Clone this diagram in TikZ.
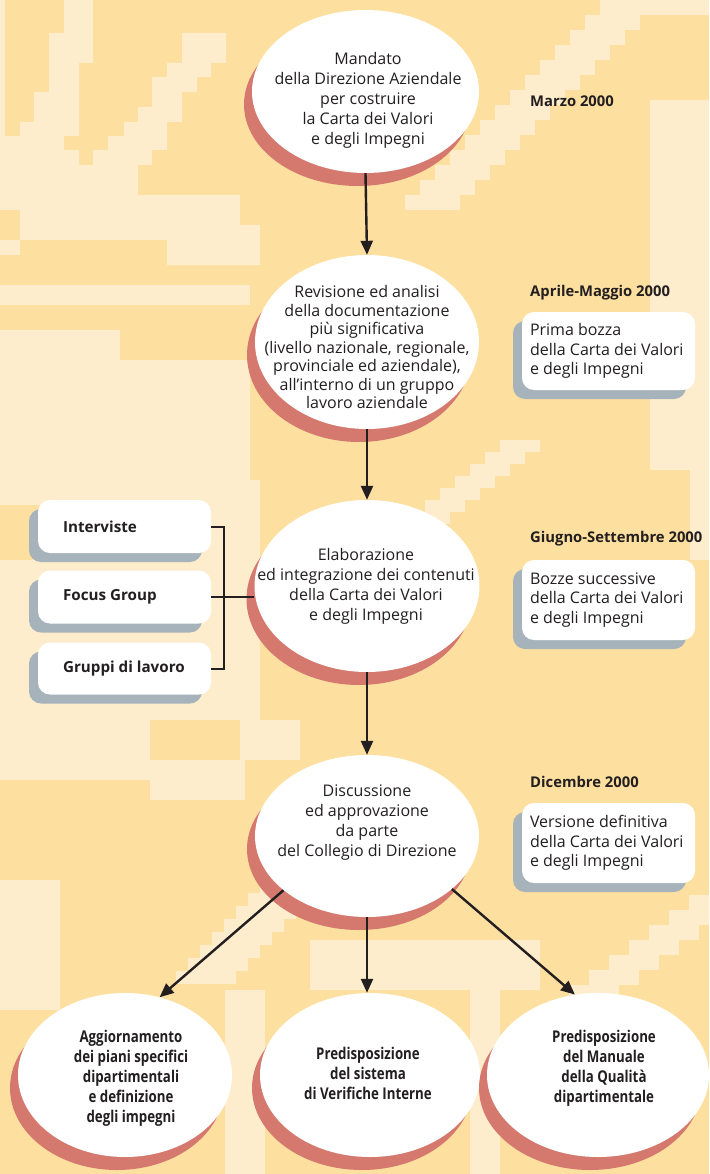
\documentclass[tikz,border=0pt]{standalone}
\usepackage{fontspec}
\setmainfont{Open Sans}
\newfontfamily\condb{Open Sans}[FakeStretch=0.82]
\usetikzlibrary{shapes.geometric,shadows,arrows.meta}
\definecolor{bgdark}{RGB}{253,223,160}
\definecolor{bglight}{RGB}{253,237,204}
\definecolor{shred}{RGB}{213,121,111}
\definecolor{shgray}{RGB}{166,179,187}
\definecolor{ink}{RGB}{35,31,32}
\tikzset{
  bubble/.style={ellipse, fill=white, inner sep=0pt,
    drop shadow={shadow xshift=-8pt, shadow yshift=-13pt, fill=shred, opacity=1}},
  etext/.style={align=center, font=\fontsize{16}{20}\selectfont, text=ink, inner sep=0pt},
  btext/.style={align=center, font=\condb\bfseries\fontsize{16.2}{20}\selectfont, text=ink, inner sep=0pt},
  sidebox/.style={rectangle, rounded corners=12pt, fill=white, minimum width=173pt,
    drop shadow={shadow xshift=-9pt, shadow yshift=-9pt, fill=shgray, opacity=1}},
  lbtext/.style={anchor=west, font=\bfseries\fontsize{15.2}{18}\selectfont, text=ink, inner sep=0pt},
  rbtext/.style={anchor=west, align=left, font=\fontsize{16}{19.5}\selectfont, text=ink, inner sep=0pt},
  datelbl/.style={anchor=west, font=\bfseries\fontsize{14.8}{17}\selectfont, text=ink, inner sep=0pt, text height=11pt, text depth=3pt},
  arr/.style={draw=ink, line width=2.4pt, -{Triangle[length=14pt,width=12pt]}},
  link/.style={draw=ink, line width=2pt},
}
\begin{document}
\begin{tikzpicture}[x=1pt,y=-1pt]
\useasboundingbox (0,0) rectangle (709,1174);
\clip (0,0) rectangle (709,1174);
% background
\fill[bgdark] (0,0) rectangle (709,1174);
\begin{scope}[bglight]
\fill (0,0) rectangle (5,136);
\fill (64,0) -- (93,0) -- (93,63) -- (79,63) -- (79,136) -- (20,136) -- (20,122) -- (34,122) -- (34,92) -- (49,92) -- (49,33) -- (64,33) -- cycle;
\fill (182,33) -- (226,33) -- (226,63) -- (211,63) -- (211,77) -- (197,77) -- (197,92) -- (182,92) -- (182,122) -- (167,122) -- (167,150) -- (152,150) -- (152,165) -- (93,165) -- (93,150) -- (108,150) -- (108,136) -- (124,136) -- (124,122) -- (138,122) -- (138,107) -- (152,107) -- (152,77) -- (167,77) -- (167,63) -- (182,63) -- cycle;
\fill (0,136) -- (64,136) -- (64,150) -- (79,150) -- (79,165) -- (138,165) -- (138,195) -- (240,195) -- (240,225) -- (260,225) -- (260,265) -- (167,265) -- (167,240) -- (20,240) -- (20,210) -- (0,210) -- cycle;
\fill (0,240) rectangle (20,255);
\foreach \i in {0,...,13} \fill ({600-\i*15},{\i*15}) rectangle ++(55,15);
\fill (600,0) rectangle (709,15);
\fill (650,100) rectangle (709,470);
\fill (690,470) rectangle (709,560);
\foreach \i in {0,...,6} \fill ({500-\i*15},{440+\i*12}) rectangle ++(40,12);
\fill (0,285) rectangle (250,305);
\fill (0,330) -- (120,330) -- (120,360) -- (250,360) -- (250,480) -- (0,480) -- cycle;
\fill (0,480) rectangle (260,505);
\fill (40,505) rectangle (260,720);
\fill (0,560) rectangle (40,720);
\fill (240,720) rectangle (300,760);
\fill (0,720) rectangle (150,780);
\fill (150,760) rectangle (245,800);
\foreach \i in {0,...,7} \fill ({709-\i*20},{880+\i*15}) rectangle ++(50,15);
\foreach \i in {0,...,7} \fill ({260-\i*12},{880+\i*13}) rectangle ++(60,13);
\fill (0,880) rectangle (60,1010);
\fill (310,940) rectangle (540,990);
\fill (225,990) rectangle (265,1174);
\fill (470,990) rectangle (500,1174);
\end{scope}
% main bubbles
\node[bubble, minimum width=227pt, minimum height=163pt] (e1) at (365.5,91.5) {};
\node[bubble, minimum width=224pt, minimum height=174pt] (e2) at (367,342) {};
\node[bubble, minimum width=225pt, minimum height=172pt] (e3) at (367,586) {};
\node[bubble, minimum width=224pt, minimum height=162pt] (e4) at (367,836) {};
\node[bubble, minimum width=214pt, minimum height=164pt] (b1) at (125,1075) {};
\node[bubble, minimum width=220pt, minimum height=164pt] (b2) at (370,1075) {};
\node[bubble, minimum width=222pt, minimum height=164pt] (b3) at (598,1075) {};
\node[etext] (t1) at (368,100) {Mandato\\della Direzione Aziendale\\per costruire\\la Carta dei Valori\\e degli Impegni};
\node[etext, font=\fontsize{16}{18.5}\selectfont] (t2) at (367,347) {Revisione ed analisi\\della documentazione\\più significativa\\(livello nazionale, regionale,\\provinciale ed aziendale),\\all’interno di un gruppo\\lavoro aziendale};
\node[etext] (t3) at (366,586) {Elaborazione\\ed integrazione dei contenuti\\della Carta dei Valori\\e degli Impegni};
\node[etext] (t4) at (367,823) {Discussione\\ed approvazione\\da parte\\del Collegio di Direzione};
\node[btext] (bt1) at (131,1078) {Aggiornamento\\dei piani specifici\\dipartimentali\\e definizione\\degli impegni};
\node[btext] (bt2) at (368,1073) {Predisposizione\\del sistema\\di Verifiche Interne};
\node[btext] (bt3) at (604,1068) {Predisposizione\\del Manuale\\della Qualità\\dipartimentale};
% left boxes
\node[sidebox, minimum height=53pt] (f1) at (124.5,526.5) {};
\node[sidebox, minimum height=53pt] (f2) at (124.5,597) {};
\node[sidebox, minimum height=52pt] (f3) at (124.5,668.5) {};
\node[lbtext] (f1t) at ([xshift=25pt]f1.west) {Interviste};
\node[lbtext] (f2t) at ([xshift=25pt]f2.west) {Focus Group};
\node[lbtext] (f3t) at ([xshift=25pt]f3.west) {Gruppi di lavoro};
% right boxes
\node[sidebox, minimum height=78pt] (r1) at (608.5,351) {};
\node[sidebox, minimum height=80pt] (r2) at (608.5,600) {};
\node[sidebox, minimum height=80pt] (r3) at (608.5,843) {};
\node[rbtext] (r1t) at ([xshift=8pt]r1.west) {Prima bozza\\della Carta dei Valori\\e degli Impegni};
\node[rbtext] (r2t) at ([xshift=8pt]r2.west) {Bozze successive\\della Carta dei Valori\\e degli Impegni};
\node[rbtext] (r3t) at ([xshift=8pt]r3.west) {Versione definitiva\\della Carta dei Valori\\e degli Impegni};
% dates
\node[datelbl] (d1) at (530,103) {Marzo 2000};
\node[datelbl] (d2) at (530,292) {Aprile-Maggio 2000};
\node[datelbl] (d3) at (530,538) {Giugno-Settembre 2000};
\node[datelbl] (d4) at (530,783) {Dicembre 2000};
% connectors
\coordinate (bk) at (224,597);
\draw[link] (f1.east) -| (bk) |- (f3.east);
\draw[link] (f2.east) -- (e3.west |- f2.east);
\draw[arr] (e1.south) -- (e2.north);
\draw[arr] (e2.south) -- (e3.north);
\draw[arr] (e3.south) -- (e4.north);
\draw[arr] (e4.-147) -- (b1.66);
\draw[arr] (e4.south) -- (e4.south |- b2.north);
\draw[arr] (e4.-32) -- (b3.106);
\end{tikzpicture}
\end{document}
